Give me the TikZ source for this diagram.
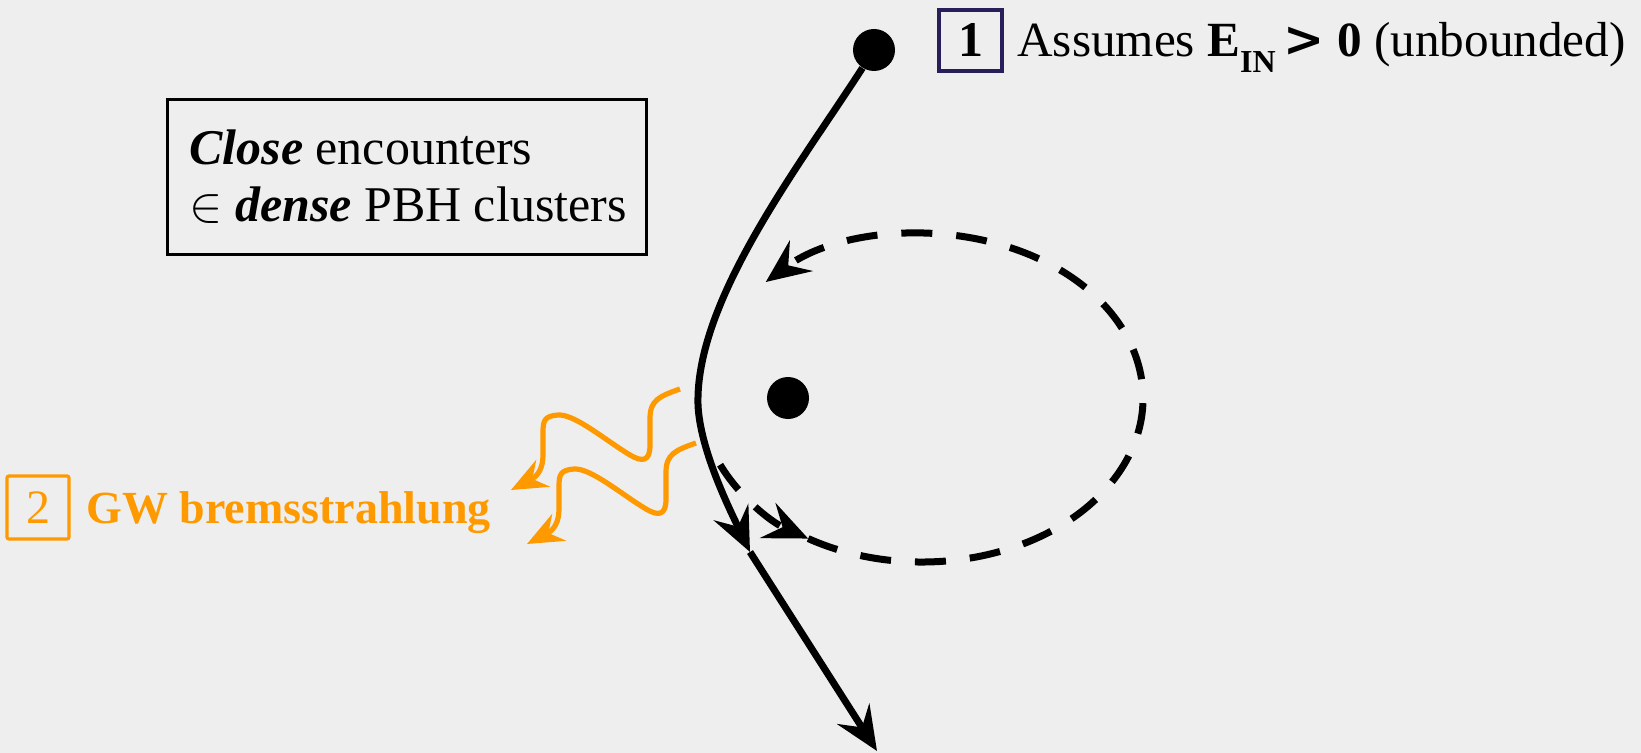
\documentclass[tikz,border=0pt]{standalone}
\usepackage{fontspec}
\setmainfont{Liberation Serif}
\newfontfamily\symfont{DejaVu Serif}
\usetikzlibrary{arrows.meta}
\definecolor{bgc}{RGB}{238,238,238}
\definecolor{gworange}{RGB}{255,153,0}
\definecolor{navybox}{RGB}{40,30,90}
\begin{document}
\begin{tikzpicture}[x=0.5pt,y=0.5pt,
  traj/.style={line width=3.5pt, line cap=butt, line join=round},
  tipk/.style={-{Stealth[length=22pt,width=19pt,inset=8pt]}},
  orbit/.style={line width=3.5pt, dash pattern=on 15.5pt off 12pt},
  gw/.style={gworange, line width=2.6pt, line join=round, -{Stealth[length=18pt,width=15pt,inset=6pt]}},
  dot/.style={circle, fill=black, inner sep=0pt, minimum size=21pt},
  numbox/.style={draw, line width=1.6pt, inner sep=0pt, minimum width=31.5pt, minimum height=30.5pt},
  lbl/.style={anchor=base west, inner sep=0pt},
]
\fill[bgc] (0,0) rectangle (1641,-753);
\useasboundingbox (0,0) rectangle (1641,-753);

% label 1
\node[numbox, draw=navybox, font=\fontsize{25pt}{28pt}\selectfont\bfseries] (b1) at (970.5,-40.5) {1};
\node[lbl, font=\fontsize{24.6pt}{28pt}\selectfont] (t1) at (1017,-57)
  {Assumes \textbf{E}\raisebox{-0.31em}{\fontsize{16pt}{17pt}\selectfont\bfseries IN}\,{\symfont\bfseries >}\ \textbf{0} (unbounded)};

% close encounters box
\node[draw, line width=1.5pt, minimum width=239.5pt, minimum height=77.5pt, inner sep=0pt] (cbox) at (406.5,-177.5) {};
\node[lbl, font=\fontsize{25pt}{28.5pt}\selectfont] (c1) at (189,-165) {\textbf{\textit{Close}} encounters};
\node[lbl, font=\fontsize{25pt}{28.5pt}\selectfont] (c2) at (189,-222) {$\in$ \textbf{\textit{dense}} PBH clusters};

% label 2
\node[numbox, draw=gworange, rounded corners=1pt, minimum width=31pt, minimum height=31.5pt, text=gworange, font=\fontsize{24pt}{28pt}\selectfont] (b2) at (38,-507.5) {2};
\node[lbl, text=gworange, font=\fontsize{23pt}{26pt}\selectfont\bfseries] (t2) at (86,-523) {GW bremsstrahlung};

% bodies
\node[dot] (d1) at (874,-50) {};
\node[dot] (d2) at (788,-398) {};

% hyperbolic trajectory
\coordinate (k1) at (698,-405);
\coordinate (m1) at (750,-552);
\coordinate (e1) at (877,-751);
\draw[traj, tipk] (d1) .. controls (800,-165) and (695,-300) .. (k1)
  .. controls (700,-450) and (730,-510) .. (m1);
\draw[traj, tipk] (m1) -- (e1);

% dashed orbit
\coordinate (oc) at (922,-398);
\coordinate (o1) at ([shift={(204:110.5pt and 82pt)}]oc);
\draw[orbit, tipk] (o1) arc[start angle=204, end angle=239, x radius=110.5pt, y radius=82pt] coordinate (o2);
\draw[orbit, tipk] (o2) arc[start angle=239, end angle=495, x radius=110.5pt, y radius=82pt];

% gravitational waves
\coordinate (g1) at (680,-389);
\draw[gw] (g1) .. controls (660,-396) and (650,-400) .. (650,-418) -- (650,-445)
  .. controls (650,-462) and (642,-462) .. (630,-455)
  .. controls (605,-440) and (575,-414) .. (558,-415)
  .. controls (545,-416) and (543,-420) .. (543,-432) -- (543,-455)
  .. controls (543,-468) and (538,-476) .. (511,-490);
\begin{scope}[shift={(16,-54)}]
\coordinate (g2) at (680,-389);
\draw[gw] (g2) .. controls (660,-396) and (650,-400) .. (650,-418) -- (650,-445)
  .. controls (650,-462) and (642,-462) .. (630,-455)
  .. controls (605,-440) and (575,-414) .. (558,-415)
  .. controls (545,-416) and (543,-420) .. (543,-432) -- (543,-455)
  .. controls (543,-468) and (538,-476) .. (511,-490);
\end{scope}
\end{tikzpicture}
\end{document}
